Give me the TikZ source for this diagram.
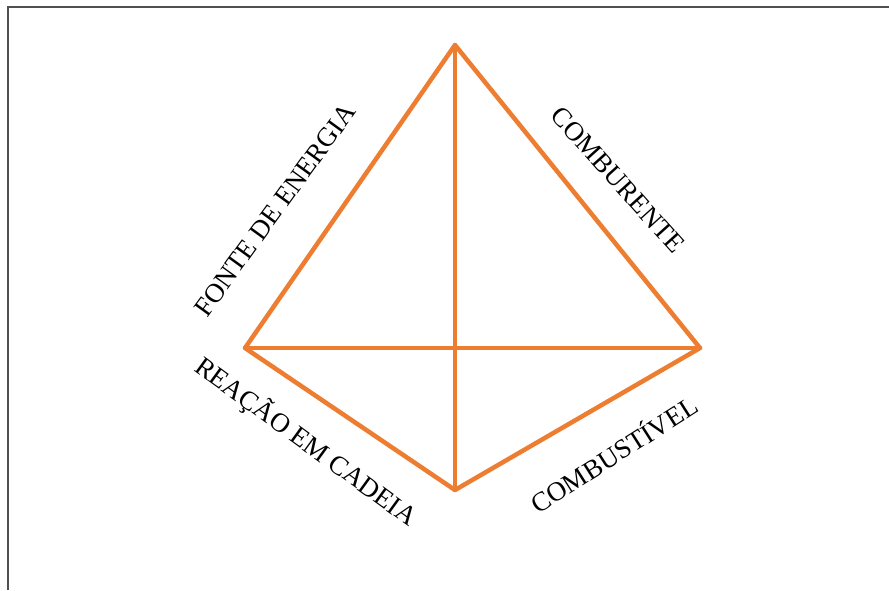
\documentclass[tikz,border=0pt]{standalone}
\usepackage{fontspec}
\setmainfont{Liberation Serif}
\definecolor{edgeorange}{HTML}{ED7D31}
\definecolor{framegray}{HTML}{505050}
\begin{document}
\begin{tikzpicture}[x=1pt,y=-1pt,
  edge/.style={draw=edgeorange,line width=4.5pt,line cap=round,line join=round},
  lab/.style={font=\fontsize{27}{27}\selectfont,inner sep=0pt,anchor=center}]
\useasboundingbox (0,0) rectangle (889,590);
\draw[framegray,line width=1.5pt] (8,590) -- (8,7) -- (889,7);
\coordinate (a) at (455,45);
\coordinate (l) at (245,348);
\coordinate (r) at (700,348);
\coordinate (b) at (455,490);
\draw[edge] (a) -- (l) -- (b) -- (r) -- cycle;
\draw[edge] (a) -- (b);
\draw[edge] (l) -- (r);
\node[lab,rotate=54] (fe) at (275,210) {FONTE DE ENERGIA};
\node[lab,rotate=-48] (co) at (618,180) {COMBURENTE};
\node[lab,rotate=-36] (rc) at (306,442) {REAÇÃO EM CADEIA};
\node[lab,rotate=32.5] (cb) at (613,453) {COMBUSTÍVEL};
\end{tikzpicture}
\end{document}
